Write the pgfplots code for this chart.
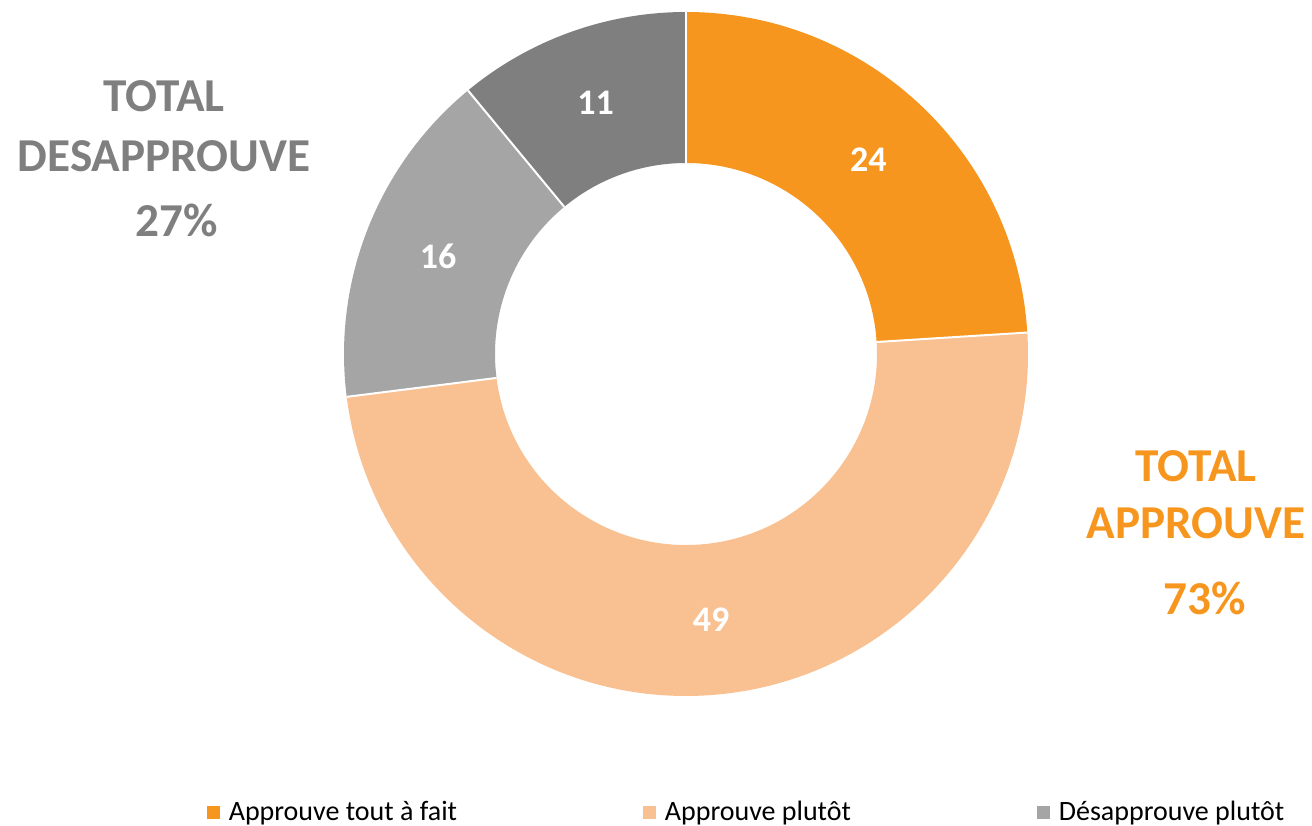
\documentclass[border=0pt]{standalone}
\usepackage{pgfplots}
\pgfplotsset{compat=1.18}
\usepackage{pgfplotstable}
\usepackage{fontspec}
\setmainfont{Carlito}
\definecolor{c1}{HTML}{F7961E}
\definecolor{c2}{HTML}{F9C192}
\definecolor{c3}{HTML}{A5A5A5}
\definecolor{c4}{HTML}{7F7F7F}
\definecolor{tgrey}{HTML}{7F7F7F}
\definecolor{torange}{HTML}{F7961E}

\pgfplotstableread[col sep=comma]{
label,value
Approuve tout à fait,24
Approuve plutôt,49
Désapprouve plutôt,16
Désapprouve tout à fait,11
}\datatable

\begin{document}
\begin{tikzpicture}
\begin{axis}[
  scale only axis, width=656pt, height=412.5pt,
  xmin=0, xmax=1312, ymin=0, ymax=825,
  hide axis, clip=false,
  legend columns=3,
  legend style={at={(axis cs:207,13)}, anchor=west, draw=none, fill=none,
    inner sep=0pt, outer sep=0pt,
    font=\fontsize{14}{16}\selectfont,
    nodes={inner sep=0pt},
    /tikz/every odd column/.append style={column sep=4.5pt},
    /tikz/every even column/.append style={column sep=93pt}},
  legend image code/.code={\fill[#1] (0pt,-3pt) rectangle (6pt,3pt);},
]
\addlegendimage{c1}
\addlegendentry{Approuve tout à fait}
\addlegendimage{c2}
\addlegendentry{Approuve plutôt}
\addlegendimage{c3}
\addlegendentry{Désapprouve plutôt}

\pgfplotsextra{%
  \coordinate (SW) at (axis cs:0,0);
  \coordinate (NE) at (axis cs:1312,825);
  \path (axis cs:686,471) coordinate (C);
  \def\Ro{171pt}\def\Ri{95.5pt}\def\Rm{133.25pt}%
  \gdef\startang{90}%
  \foreach \i/\col in {0/c1,1/c2,2/c3,3/c4}{%
    \pgfplotstablegetelem{\i}{value}\of\datatable
    \let\val\pgfplotsretval
    \pgfmathsetmacro{\endang}{\startang-3.6*\val}%
    \pgfmathsetmacro{\midang}{(\startang+\endang)/2}%
    \fill[\col] ([shift={(\startang:\Ro)}]C) arc[start angle=\startang,end angle=\endang,radius=\Ro]
      -- ([shift={(\endang:\Ri)}]C) arc[start angle=\endang,end angle=\startang,radius=\Ri] -- cycle;
    \node[white, inner sep=0pt, font=\fontsize{18}{20}\selectfont\bfseries] at ([shift={(\midang:\Rm)}]C) {\val};
    \xdef\startang{\endang}%
  }
  \gdef\startang{90}%
  \foreach \i in {0,1,2,3}{%
    \pgfplotstablegetelem{\i}{value}\of\datatable
    \let\val\pgfplotsretval
    \draw[white, line width=1pt] ([shift={(\startang:\Ri)}]C) -- ([shift={(\startang:\Ro)}]C);
    \pgfmathsetmacro{\endang}{\startang-3.6*\val}%
    \xdef\startang{\endang}%
  }
}

\node[tgrey, anchor=base, inner sep=0pt, font=\fontsize{23.6}{25}\selectfont\bfseries] at (axis cs:164,713) {TOTAL};
\node[tgrey, anchor=base, inner sep=0pt, font=\fontsize{23.6}{25}\selectfont\bfseries] at (axis cs:164,653) {DESAPPROUVE};
\node[tgrey, anchor=base, inner sep=0pt, font=\fontsize{23.6}{25}\selectfont\bfseries] at (axis cs:177,588) {27\%};
\node[torange, anchor=base, inner sep=0pt, font=\fontsize{23.6}{25}\selectfont\bfseries] at (axis cs:1196,343) {TOTAL};
\node[torange, anchor=base, inner sep=0pt, font=\fontsize{23.6}{25}\selectfont\bfseries] at (axis cs:1196,286) {APPROUVE};
\node[torange, anchor=base, inner sep=0pt, font=\fontsize{23.6}{25}\selectfont\bfseries] at (axis cs:1205,210) {73\%};
\end{axis}
\pgfresetboundingbox
\path (SW) rectangle (NE);
\end{tikzpicture}
\end{document}
